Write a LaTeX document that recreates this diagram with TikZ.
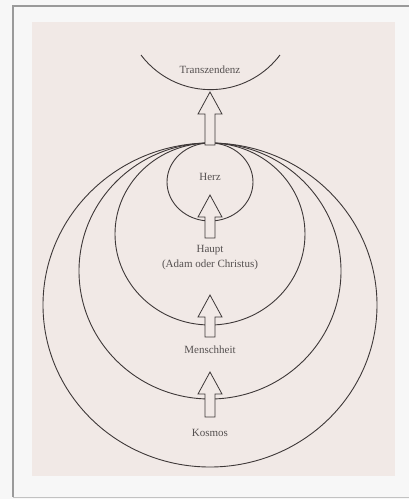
\documentclass[tikz,border=0pt]{standalone}
\usepackage{fontspec}
\setmainfont{Liberation Serif}
\begin{document}
\begin{tikzpicture}[x=1pt,y=-1pt,
  ring/.style={draw=linec, line width=0.9pt},
  lbl/.style={font=\fontsize{11}{15}\selectfont, text=textc, inner sep=1pt, align=center},
  blockarrow/.style={draw=linec, line width=0.8pt, fill=paper, line join=miter}]
\definecolor{paper}{HTML}{F1E9E6}
\definecolor{linec}{HTML}{3E3838}
\definecolor{textc}{HTML}{555050}
\definecolor{framec}{HTML}{9A9A9A}
\useasboundingbox (0,0) rectangle (409,499);
\fill[white!97!black] (0,0) rectangle (409,499);
\fill[paper] (32,22) rectangle (395,476);
\draw[framec, line width=1.6pt] (13,497) -- (13,6) -- (409,6);
\draw[framec!60, line width=1pt] (13,497) -- (409,497);
% circles tangent at top (210,143)
\draw[ring] (210,305) ellipse [x radius=167, y radius=162];
\draw[ring] (210,271) ellipse [x radius=131, y radius=128];
\draw[ring] (210,234) ellipse [x radius=95, y radius=91];
\draw[ring] (210,182) ellipse [x radius=43, y radius=39];
% Transzendenz arc (centre 210,3; radius 87)
\draw[ring] (141,55) arc[start angle=143, end angle=37, radius=87];
% labels
\node[lbl] (tr) at (210,70) {Transzendenz};
\node[lbl] (herz) at (210,177) {Herz};
\node[lbl] (haupt) at (210,258) {Haupt\\(Adam oder Christus)};
\node[lbl] (mensch) at (210,350) {Menschheit};
\node[lbl] (kosmos) at (210,433) {Kosmos};
% block arrows
\newcommand{\blockarr}[3]{% tip y, head base y, shaft bottom y
  \draw[blockarrow] (210,#1) -- (222,#2) -- (215,#2) -- (215,#3) -- (205,#3) -- (205,#2) -- (198,#2) -- cycle;}
\blockarr{92}{114}{145}
\blockarr{195}{217}{238}
\blockarr{295}{317}{337}
\blockarr{372}{394}{417}
\end{tikzpicture}
\end{document}
